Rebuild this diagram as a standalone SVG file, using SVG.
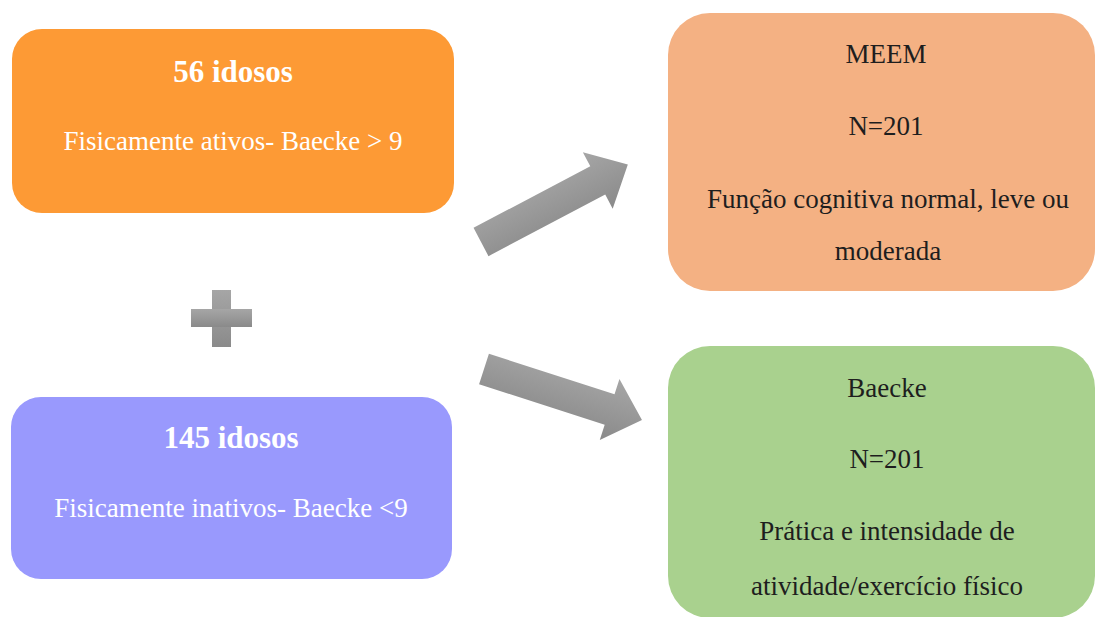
<svg xmlns="http://www.w3.org/2000/svg" width="1097" height="617" viewBox="0 0 1097 617">
<defs>
<linearGradient id="g" x1="0" y1="0" x2="0" y2="1">
<stop offset="0" stop-color="#a6a6a6"/><stop offset="1" stop-color="#8a8a8a"/>
</linearGradient>
<style>
text{font-family:'Liberation Serif',Tinos,'DejaVu Serif',serif;text-anchor:middle}
.w{fill:#ffffff}
.t{font-size:31px;font-weight:bold}
.s{font-size:27px}
.d{fill:#1e1e1e;font-size:27px}
.arrow{fill:url(#g)}
</style>
</defs>
<rect width="1097" height="617" fill="#ffffff"/>
<g id="node-active">
<rect x="12" y="29" width="442" height="184" rx="30" fill="#fd9a35"/>
<text class="w t" x="233" y="82">56 idosos</text>
<text class="w s" x="233" y="150">Fisicamente ativos- Baecke &gt; 9</text>
</g>
<g id="plus">
<rect x="212" y="290" width="19" height="57" fill="url(#g)"/>
<rect x="191" y="309" width="61" height="18" fill="url(#g)"/>
</g>
<g id="node-inactive">
<rect x="11" y="397" width="441" height="182" rx="30" fill="#9999fd"/>
<text class="w t" x="231" y="448">145 idosos</text>
<text class="w s" x="231" y="517">Fisicamente inativos- Baecke &lt;9</text>
</g>
<g id="node-meem">
<rect x="668" y="13" width="427" height="278" rx="42" fill="#f4b183"/>
<text class="d" x="886" y="63">MEEM</text>
<text class="d" x="886" y="135">N=201</text>
<text class="d" x="888" y="208">Função cognitiva normal, leve ou</text>
<text class="d" x="888" y="260">moderada</text>
</g>
<g id="node-baecke">
<rect x="668" y="346" width="427" height="272" rx="42" fill="#a9d18e"/>
<text class="d" x="887" y="397">Baecke</text>
<text class="d" x="887" y="468">N=201</text>
<text class="d" x="887" y="540">Prática e intensidade de</text>
<text class="d" x="887" y="595">atividade/exercício físico</text>
</g>
<g id="connectors">
<path class="arrow" transform="translate(481,242) rotate(-27.8)" d="M0,-16 L132,-16 L132,-32 L166,0 L132,32 L132,16 L0,16 Z"/>
<path class="arrow" transform="translate(484,369) rotate(17.9)" d="M0,-16 L132,-16 L132,-32 L166,0 L132,32 L132,16 L0,16 Z"/>
</g>
</svg>
